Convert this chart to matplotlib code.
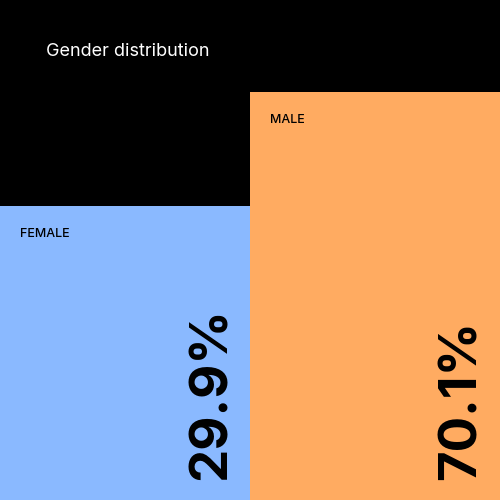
import matplotlib
matplotlib.use("Agg")
import matplotlib.pyplot as plt

categories = ["FEMALE", "MALE"]
values = [29.9, 70.1]
colors = ["#8ab9ff", "#ffab61"]
title = "Gender distribution"

plt.rcParams['font.family'] = ['Inter', 'DejaVu Sans']

fig = plt.figure(figsize=(5, 5), dpi=100, facecolor="black")
ax = fig.add_axes([0, 0, 1, 1], facecolor="black")

x = list(range(len(categories)))
ax.bar(x, values, width=1.0, color=colors, bottom=0)
ax.set_xlim(-0.5, len(categories) - 0.5)
ylo, yhi = -73.8, 102.6
ax.set_ylim(ylo, yhi)
# bars start at the bottom edge of the figure
for p in ax.patches:
    p.set_y(ylo)
    p.set_height(p.get_height() - ylo)
ax.axis("off")

for i, (cat, v) in enumerate(zip(categories, values)):
    ax.annotate(cat, (i - 0.5, v), xytext=(20, -28), textcoords="offset pixels",
                ha="left", va="center", fontsize=9, fontweight="medium",
                color="black")
    ax.annotate(f"{v}%", (i + 0.5, ylo), xytext=(-13, 20), textcoords="offset pixels",
                ha="right", va="bottom", rotation=90, fontsize=38,
                fontweight="bold", color="black")

fig.text(46 / 500, 1 - 51 / 500, title, color="white", fontsize=13,
         ha="left", va="center")

fig.savefig("out.png", dpi=100, facecolor="black")
